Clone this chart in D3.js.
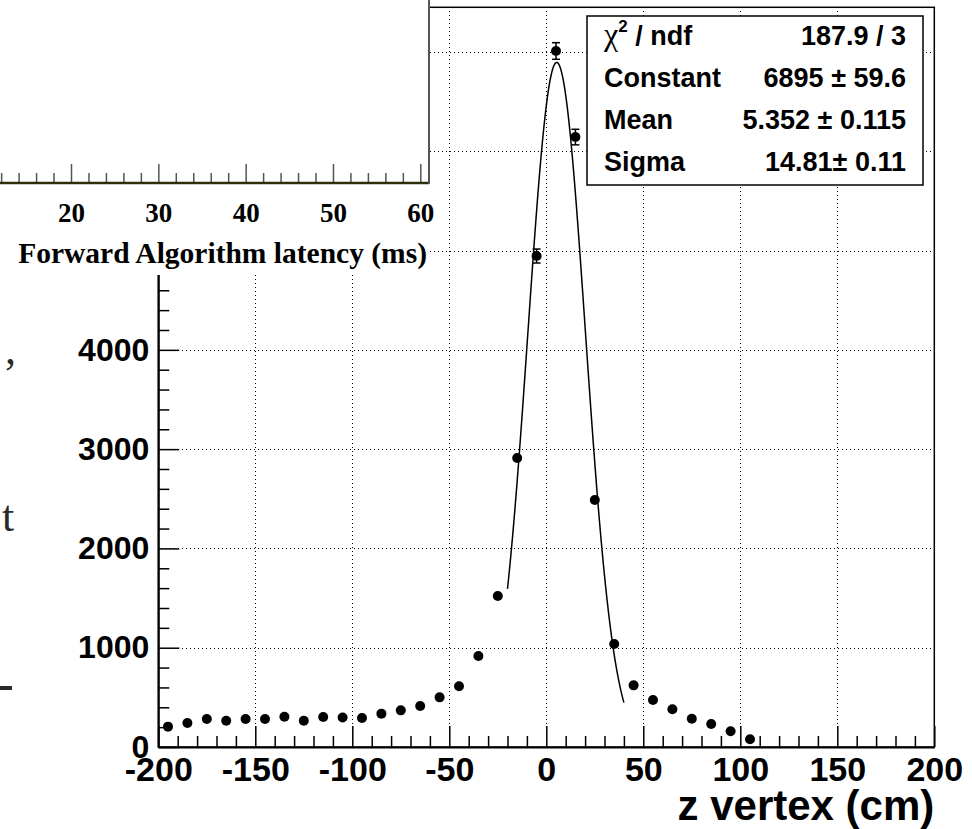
<!DOCTYPE html>
<html>
<head>
<meta charset="utf-8">
<script src="https://cdn.jsdelivr.net/npm/d3@7/dist/d3.min.js"></script>
<style>
  html, body { margin: 0; padding: 0; background: #fff; }
  svg { display: block; }
</style>
</head>
<body>
<svg id="chart" width="972" height="829"></svg>
<script>
// ---------------- data ----------------
const binCenters = [-195,-185,-175,-165,-155,-145,-135,-125,-115,-105,-95,-85,-75,-65,-55,-45,-35,-25,-15,-5,5,15,25,35,45,55,65,75,85,95,105];
const counts     = [205,242,282,265,282,282,305,265,302,298,292,336,369,413,500,611,916,1520,2910,4945,7010,6143,2487,1037,621,473,380,285,232,158,78];

const xMajorTicks = [-200,-150,-100,-50,0,50,100,150,200];
const yMajorTicks = [0,1000,2000,3000,4000,5000,6000,7000];
const yVisibleLabels = [0,1000,2000,3000,4000];
const xGrid = [-150,-100,-50,0,50,100,150];
const yGrid = [1000,2000,3000,4000,5000,6000,7000];

const fitConstant = [6895];
const fitMean = [5.352];
const fitSigma = [14.81];
const fitRange = [-20, 40];

const statNames  = ["χ2 / ndf", "Constant", "Mean", "Sigma"];
const statValues = ["187.9 / 3", "6895 \u00b1 59.6", "5.352 \u00b1 0.115", "14.81\u00b1 0.11"];

const xTitle = "z vertex (cm)";

// overlay (fragment of another plot)
const overlayMajor = [10,20,30,40,50,60];
const overlayLabels = [20,30,40,50,60];
const overlayTitle = "Forward Algorithm latency (ms)";

// background document text fragments
const bgFragments = [",", "t"];

// ---------------- drawing ----------------
const svg = d3.select("#chart");
const SANS = "'Liberation Sans', Arial, Helvetica, sans-serif";
const SERIF = "'Liberation Serif', 'Times New Roman', Times, serif";

// background document text fragments
const bg = svg.append("g").attr("font-family", SERIF).attr("font-size", 44).attr("fill", "#2a2a2a");
bg.append("text").attr("x", 5).attr("y", 364).text(bgFragments[0]);
bg.append("text").attr("x", 2).attr("y", 531).text(bgFragments[1]);
bg.append("rect").attr("x", 0).attr("y", 686).attr("width", 12).attr("height", 4).attr("fill", "#2a2a2a");

const x = d3.scaleLinear().domain([-200, 200]).range([158.3, 934.3]);
const y = d3.scaleLinear().domain([0, 7450]).range([747, 7.3]);
const fmt = d => String(d);

const main = svg.append("g");

// grid
main.append("g").attr("shape-rendering", "crispEdges").selectAll("line").data(xGrid).join("line")
  .attr("x1", d => Math.round(x(d)) + 0.5).attr("x2", d => Math.round(x(d)) + 0.5)
  .attr("y1", y.range()[1]).attr("y2", y.range()[0])
  .attr("stroke", "#000").attr("stroke-width", 1).attr("stroke-dasharray", "1,3");
main.append("g").attr("shape-rendering", "crispEdges").selectAll("line").data(yGrid).join("line")
  .attr("x1", x.range()[0]).attr("x2", x.range()[1])
  .attr("y1", d => Math.round(y(d)) + 0.5).attr("y2", d => Math.round(y(d)) + 0.5)
  .attr("stroke", "#000").attr("stroke-width", 1).attr("stroke-dasharray", "1,3");

// fit curve
const gauss = v => fitConstant[0] * Math.exp(-0.5 * Math.pow((v - fitMean[0]) / fitSigma[0], 2));
const fitXs = d3.range(fitRange[0], fitRange[1] + 0.001, 0.25);
main.append("path")
  .datum(fitXs)
  .attr("d", d3.line().x(d => x(d)).y(d => y(gauss(d))))
  .attr("fill", "none").attr("stroke", "#000").attr("stroke-width", 1.5);

// error bars (Poisson) + markers
const R = 5;
const pts = binCenters.map((c, i) => ({ c, v: counts[i], e: Math.sqrt(counts[i]) }));
const eb = main.append("g").attr("stroke", "#000").attr("stroke-width", 1.5);
pts.forEach(p => {
  const cx = x(p.c), cy = y(p.v);
  const top = y(p.v + p.e), bot = y(p.v - p.e);
  if (cy - top > R + 0.5) {
    eb.append("line").attr("x1", cx).attr("x2", cx).attr("y1", top).attr("y2", cy - R);
    eb.append("line").attr("x1", cx).attr("x2", cx).attr("y1", cy + R).attr("y2", bot);
    eb.append("line").attr("x1", cx - 4).attr("x2", cx + 4).attr("y1", top).attr("y2", top);
    eb.append("line").attr("x1", cx - 4).attr("x2", cx + 4).attr("y1", bot).attr("y2", bot);
  }
});
main.append("g").selectAll("circle").data(pts).join("circle")
  .attr("cx", d => x(d.c)).attr("cy", d => y(d.v)).attr("r", R).attr("fill", "#000");

// frame
main.append("rect")
  .attr("x", x.range()[0]).attr("y", y.range()[1])
  .attr("width", x.range()[1] - x.range()[0]).attr("height", y.range()[0] - y.range()[1])
  .attr("fill", "none").attr("stroke", "#000").attr("stroke-width", 1.5);

// x axis
const xMinor = d3.range(-200, 201, 10).filter(v => v % 50 !== 0);
const gx = main.append("g").attr("transform", `translate(0,${y(0)})`);
gx.append("g").call(d3.axisBottom(x).tickValues(xMinor).tickSize(-11).tickSizeOuter(0).tickFormat(""))
  .call(g => g.select(".domain").remove());
gx.append("g").call(d3.axisBottom(x).tickValues(xMajorTicks).tickSize(-21).tickSizeOuter(0).tickPadding(10).tickFormat(fmt))
  .call(g => g.select(".domain").attr("stroke-width", 2))
  .call(g => g.selectAll("text").attr("font-family", SANS).attr("font-weight", "bold").attr("font-size", 34).attr("fill", "#000"));
gx.selectAll(".tick line").attr("stroke", "#000").attr("stroke-width", 1.5);

// y axis
const yMinor = d3.range(0, 7401, 200).filter(v => v % 1000 !== 0);
const gy = main.append("g").attr("transform", `translate(${x(-200)},0)`);
gy.append("g").call(d3.axisLeft(y).tickValues(yMinor).tickSize(-11).tickSizeOuter(0).tickFormat(""))
  .call(g => g.select(".domain").remove());
gy.append("g").call(d3.axisLeft(y).tickValues(yMajorTicks).tickSize(-21).tickSizeOuter(0).tickFormat(""))
  .call(g => g.select(".domain").attr("stroke-width", 2));
gy.append("g").call(d3.axisLeft(y).tickValues(yVisibleLabels).tickSize(0).tickSizeOuter(0).tickPadding(9).tickFormat(fmt))
  .call(g => g.select(".domain").remove())
  .call(g => g.selectAll("text").attr("font-family", SANS).attr("font-weight", "bold").attr("font-size", 32).attr("fill", "#000"));
gy.selectAll(".tick line").attr("stroke", "#000").attr("stroke-width", 1.5);

// x title
main.append("text").attr("x", x.range()[1]).attr("y", 820).attr("text-anchor", "end")
  .attr("font-family", SANS).attr("font-weight", "bold").attr("font-size", 42).text(xTitle);

// stats box
const box = { x0: 587, y0: 16, x1: 923, y1: 185 };
main.append("rect").attr("x", box.x0).attr("y", box.y0).attr("width", box.x1 - box.x0).attr("height", box.y1 - box.y0)
  .attr("fill", "#fff").attr("stroke", "#000").attr("stroke-width", 1.5);
const rowBase = [45, 87, 129, 171];
const st = main.append("g").attr("font-family", SANS).attr("font-weight", "bold").attr("font-size", 27).attr("fill", "#000");
statNames.forEach((n, i) => {
  const t = st.append("text").attr("x", 604).attr("y", rowBase[i]);
  if (i === 0) {
    t.append("tspan").attr("font-family", SERIF).attr("font-weight", "normal").attr("font-size", 32).text("χ");
    t.append("tspan").attr("font-size", 17).attr("dy", -13).text("2");
    t.append("tspan").attr("dy", 13).text(" / ndf");
  } else {
    t.text(n);
  }
  st.append("text").attr("x", 906).attr("y", rowBase[i]).attr("text-anchor", "end").text(statValues[i]);
});

// ---------------- overlay fragment of another plot ----------------
const ov = svg.append("g");
ov.append("rect").attr("x", 0).attr("y", 0).attr("width", 429).attr("height", 275).attr("fill", "#fff");
const ox = d3.scaleLinear().domain([20, 60]).range([71, 420.3]);
const oyAxis = 183;
const ovMinor = d3.range(2, 61, 2).filter(v => v % 10 !== 0);
const gox = ov.append("g").attr("transform", `translate(0,${oyAxis})`);
gox.append("g").call(d3.axisBottom(ox).tickValues(ovMinor).tickSize(-10).tickSizeOuter(0).tickFormat(""))
  .call(g => g.select(".domain").remove());
gox.append("g").call(d3.axisBottom(ox).tickValues(overlayMajor).tickSize(-19).tickSizeOuter(0).tickFormat(""))
  .call(g => g.select(".domain").remove());
gox.append("g").call(d3.axisBottom(ox).tickValues(overlayLabels).tickSize(0).tickSizeOuter(0).tickPadding(20).tickFormat(fmt))
  .call(g => g.select(".domain").remove())
  .call(g => g.selectAll("text").attr("font-family", SERIF).attr("font-weight", "bold").attr("font-size", 27).attr("fill", "#000"));
gox.selectAll(".tick line").attr("stroke", "#555").attr("stroke-width", 1.5);
ov.append("line").attr("x1", 0).attr("x2", 429).attr("y1", oyAxis).attr("y2", oyAxis)
  .attr("stroke", "#2e2e08").attr("stroke-width", 2.5);
ov.append("line").attr("x1", 429).attr("x2", 429).attr("y1", 0).attr("y2", oyAxis + 1)
  .attr("stroke", "#555").attr("stroke-width", 2);
ov.append("text").attr("x", 427).attr("y", 263).attr("text-anchor", "end")
  .attr("font-family", SERIF).attr("font-weight", "bold").attr("font-size", 29.5).attr("fill", "#000")
  .text(overlayTitle);
</script>
</body>
</html>
